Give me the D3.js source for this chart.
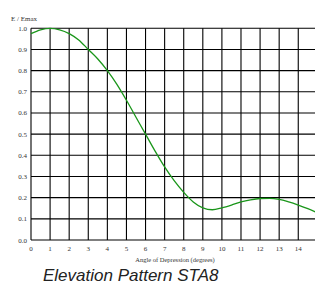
<!DOCTYPE html>
<html><head><meta charset="utf-8">
<script src="https://cdn.jsdelivr.net/npm/d3@7/dist/d3.min.js"></script>
<style>body{margin:0;background:#fff;}svg{display:block;}</style>
</head><body>
<script>
const angles = [0,0.5,1,1.5,2,2.5,3,3.5,4,4.5,5,5.5,6,6.5,7,7.5,8,8.5,9,9.5,10,10.5,11,11.5,12,12.5,13,13.5,14,14.5,15];
const eRatio = [0.975,0.993,1.0,0.993,0.975,0.945,0.90,0.855,0.80,0.735,0.66,0.58,0.50,0.42,0.345,0.28,0.225,0.18,0.152,0.143,0.152,0.165,0.180,0.190,0.196,0.197,0.192,0.180,0.165,0.148,0.128];
const xTicks = [0,1,2,3,4,5,6,7,8,9,10,11,12,13,14];
const yTicks = [0,0.1,0.2,0.3,0.4,0.5,0.6,0.7,0.8,0.9,1.0];
const yLabel = "E / Emax";
const xLabel = "Angle of Depression (degrees)";
const title = "Elevation Pattern STA8";

const W = 315, H = 285;
const svg = d3.select("body").append("svg").attr("width", W).attr("height", H);
const x = d3.scaleLinear().domain([0, 15]).range([31, 31 + 15 * 19.09]);
const y = d3.scaleLinear().domain([0, 1]).range([240, 28.3]);

const serif = "'Liberation Serif', 'DejaVu Serif', serif";
const g = svg.append("g");
// grid
g.selectAll("line.v").data(d3.range(0, 16)).enter().append("line")
  .attr("x1", d => x(d)).attr("x2", d => x(d)).attr("y1", y(1)).attr("y2", y(0))
  .attr("stroke", "#000").attr("stroke-width", 1.1);
g.selectAll("line.h").data(yTicks).enter().append("line")
  .attr("x1", x(0)).attr("x2", W).attr("y1", d => y(d)).attr("y2", d => y(d))
  .attr("stroke", "#000").attr("stroke-width", 1.1);

// y tick labels
svg.selectAll("text.yt").data(yTicks).enter().append("text")
  .attr("x", 27).attr("y", d => y(d) + 2.5).attr("text-anchor", "end")
  .attr("font-family", serif).attr("font-size", 7).attr("fill", "#333")
  .text(d => d.toFixed(1));
// x tick labels
svg.selectAll("text.xt").data(xTicks).enter().append("text")
  .attr("x", d => x(d)).attr("y", 251).attr("text-anchor", "middle")
  .attr("font-family", serif).attr("font-size", 7).attr("fill", "#333")
  .text(d => d);

svg.append("text").attr("x", 11).attr("y", 20.5)
  .attr("font-family", serif).attr("font-size", 7).attr("fill", "#333").text(yLabel);
svg.append("text").attr("x", 175).attr("y", 262).attr("text-anchor", "middle")
  .attr("font-family", serif).attr("font-size", 6.5).attr("fill", "#333").text(xLabel);
svg.append("text").attr("x", 43).attr("y", 281)
  .attr("font-family", "'Liberation Sans', Arial, sans-serif").attr("font-style", "italic")
  .attr("font-size", 17).attr("fill", "#222").text(title);

const line = d3.line().x((d, i) => x(angles[i])).y(d => y(d)).curve(d3.curveMonotoneX);
svg.append("path").datum(eRatio).attr("d", line)
  .attr("fill", "none").attr("stroke", "#1a961a").attr("stroke-width", 1.3);
</script>
</body></html>
